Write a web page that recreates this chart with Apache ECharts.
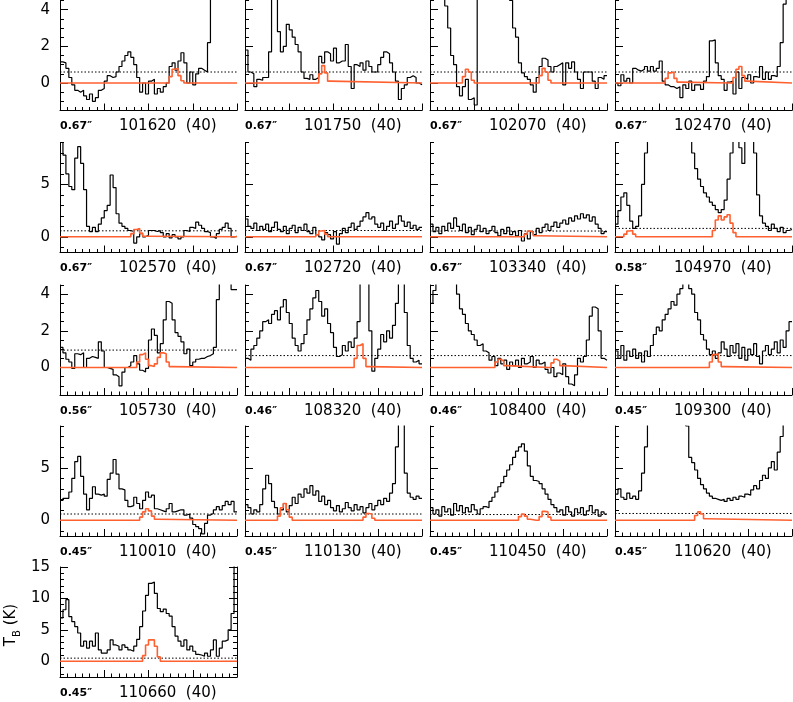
<!DOCTYPE html>
<html><head><meta charset="utf-8">
<script src="https://cdn.jsdelivr.net/npm/echarts@6/dist/echarts.min.js"></script>
<style>html,body{margin:0;padding:0;background:#fff}#c{width:793px;height:702px}</style>
</head><body><div id="c"></div>
<script>
// ---------- labels ----------
const freqLabels = ['101620','101750','102070','102470','102570','102720','103340','104970','105730','108320','108400','109300','110010','110130','110450','110620','110660'];
const beamLabels = ['0.67″','0.67″','0.67″','0.67″','0.67″','0.67″','0.67″','0.58″','0.56″','0.46″','0.46″','0.45″','0.45″','0.45″','0.45″','0.45″','0.45″'];
const widthLabel = '(40)';
const yTitle = 'T_B (K)';

// ---------- observed spectra (T_B in K, 60 channels each) ----------
const spec101620 = [1.15,1.1,0.8,0.3,-0.1,-0.4,-0.5,-0.4,-0.7,-0.9, -0.6,-1.0,-0.8,-0.4,-0.3,0.1,0.4,0.3,0.35,0.6, 0.9,1.2,1.5,1.7,1.4,1.0,0.3,-0.5,0.0,-0.6, 0.1,0.2,-0.6,-0.3,-0.5,-0.2,0.0,0.9,1.1,0.7, 1.2,1.65,1.1,0.0,0.6,-0.1,0.5,0.8,0.7,0.6, 2.2,6,7,8,8,8,8,8,8,8];
const spec101750 = [1.8,0.6,0.5,-0.2,0.2,0.15,0.3,0.3,1.7,6, 6,2.8,1.7,2.0,3.2,2.9,2.5,2.1,1.7,0.6, 0.25,0.2,0.45,0.2,0.3,1.45,1.1,1.7,1.6,1.2, 1.9,1.1,1.2,1.2,2.1,0.9,-0.3,1.0,0.9,1.1, 0.7,1.2,0.9,0.6,0.6,1.0,1.4,1.7,1.6,1.1, 0.6,0.1,-0.9,-0.3,-0.1,0.3,0.4,0.3,0.0,-0.1];
const spec102070 = [8,8,8,7,6,4.2,3.0,1.5,1.0,-0.2, -0.7,-0.2,0.2,-0.9,-0.8,-1.2,8,8,8,8, 8,8,8,8,8,8,8,4.5,3.0,2.5, 1.1,0.55,0.35,0.2,-0.1,-0.5,0.3,0.9,1.35,1.25, 0.9,0.6,0.9,1.0,1.1,-0.1,1.1,0.8,1.15,0.6, 0.2,-0.3,0.6,0.6,0.6,0.1,-0.3,0.3,0.2,0.4];
const spec102470 = [0.0,-0.15,0.45,0.1,0.25,0.0,0.8,0.7,0.65,0.75, 0.9,0.65,0.9,0.65,0.8,1.2,0.1,-0.1,-0.2,-0.2, -0.3,-0.2,-0.8,-0.1,-0.3,0.1,-0.4,-0.1,-0.1,-0.35, 0.1,0.35,2.3,2.35,1.1,0.4,0.2,-0.4,0.05,0.1, -0.6,0.6,-0.3,0.3,0.2,0.45,0.0,0.35,0.3,0.9, 0.2,0.6,0.2,0.4,0.35,0.9,2.2,4.3,8,8];
const spec102570 = [9,7.8,6.0,4.8,4.5,7.5,8.6,7.0,4.5,1.0, 0.5,0.9,0.5,1.2,1.8,2.5,3.0,5.9,4.7,2.2, 1.3,1.0,0.8,0.6,0.5,-0.6,0.0,0.3,0.0,0.15, 0.6,0.6,0.5,0.6,0.4,0.0,0.3,-0.1,0.2,0.0, -0.2,0.0,0.6,0.5,0.9,0.8,1.4,1.1,0.8,0.5, 0.4,0.0,-0.15,0.3,0.7,0.9,1.3,0.8,0.0,0.05];
const spec102720 = [1.7,1.0,0.8,1.3,0.6,1.0,0.7,1.2,0.5,0.9, 1.4,0.7,0.5,1.0,0.3,0.8,1.1,0.4,0.9,0.6, 1.2,0.5,0.3,0.9,0.2,0.0,-0.3,0.4,0.2,-0.2, 0.5,-0.7,0.3,0.8,0.4,0.9,1.3,0.7,1.0,1.5, 1.9,2.3,1.7,1.9,1.2,0.9,1.3,0.6,1.0,1.5, 0.8,1.2,2.0,1.5,1.0,1.4,0.8,1.1,0.7,0.9];
const spec103340 = [1.2,0.5,0.9,0.3,1.0,0.6,1.3,0.8,1.8,1.0, 0.6,1.2,0.4,0.9,0.2,0.7,1.1,0.5,0.8,0.3, 0.6,1.0,0.4,0.1,0.7,0.3,0.9,0.2,0.5,0.1, 0.6,-0.4,0.3,-0.2,0.5,0.2,0.8,0.4,0.9,1.2, 0.6,1.0,1.4,0.9,1.3,1.6,1.2,1.8,1.5,2.0, 1.7,2.2,1.8,2.1,1.5,1.9,1.2,0.8,0.3,0.5];
const spec104970 = [1.2,2.5,3.8,4.2,3.0,1.5,0.8,1.0,2.0,5, 8,10,10,10,10,10,10,10,10,10, 10,10,10,10,10,9.5,8,6.5,5.5,4.8, 4.2,3.8,3.3,3.0,2.6,2.3,2.6,3.5,5.5,8, 10,10,8.5,7.0,9.5,10,10,8,4,2.0, 1.3,1.0,0.6,1.2,0.8,0.5,0.9,0.4,0.6,0.7];
const spec105730 = [1.1,0.8,0.45,0.3,-0.05,0.75,0.7,0.8,0.0,0.5, 0.6,0.55,0.5,1.4,0.9,0.0,-0.05,-0.1,-0.4,-0.5, -1.0,-0.25,0.0,0.1,0.3,0.65,0.2,-0.15,-0.25,-0.05, 1.5,2.1,1.75,0.8,1.3,2.6,3.6,3.5,2.6,1.9, 1.7,1.4,0.75,1.0,0.1,0.3,0.45,0.5,0.5,0.6, 0.65,0.75,1.1,3.7,6,8,8,8,4.25,4.25];
const spec108320 = [0.5,0.4,1.0,1.2,1.6,2.0,2.5,2.6,2.4,2.9, 3.1,2.6,3.3,3.7,3.0,2.4,1.6,1.2,0.9,1.3, 1.8,2.6,3.2,3.8,4.2,3.6,2.8,3.2,2.4,1.9, 1.1,0.6,0.7,1.2,0.9,1.4,1.1,1.6,2.5,6, 6,5,2.0,-0.2,0.5,1.0,1.8,1.4,2.0,1.6, 2.3,3.5,6,6,3.0,1.2,0.5,0.3,0.4,0.2];
const spec108400 = [3.5,4.2,6,8,8,8,7,6,5,4.0, 3.2,2.9,2.4,2.0,1.8,1.5,1.2,1.3,0.9,0.8, 0.4,0.6,0.1,0.5,0.2,0.4,-0.1,0.3,0.1,0.4, 0.0,0.5,0.2,0.3,0.6,0.0,0.4,0.2,0.3,-0.1, -0.3,0.0,-0.5,-0.3,-0.4,0.2,-0.5,-0.9,-1.0,-0.4, 0.5,0.3,0.6,1.5,2.8,3.3,3.2,2.0,0.5,0.4];
const spec109300 = [0.9,0.5,1.2,0.4,0.9,0.6,1.0,0.5,0.8,0.3, 0.9,0.6,1.2,1.8,2.2,2.0,2.6,2.9,3.2,3.6, 3.4,4.0,4.3,6,5.5,4.3,4.0,3.0,2.6,1.8, 1.5,1.0,0.7,0.9,0.5,0.8,1.4,1.0,0.6,1.2, 0.8,1.3,0.5,1.1,0.4,1.0,0.7,1.3,0.6,0.2, 0.9,1.2,0.7,1.0,1.4,0.8,1.5,1.1,2.0,2.5];
const spec110010 = [1.9,2.1,2.1,2.7,4.0,5.6,6.1,4.2,2.5,1.0, 2.1,3.2,2.5,2.4,2.5,2.3,3.9,4.5,5.8,4.4, 3.0,2.9,1.9,1.3,1.4,2.2,1.6,1.1,1.9,2.7, 2.2,2.4,1.1,1.0,0.9,0.8,1.1,1.6,0.8,0.9, 1.0,1.0,0.5,0.6,0.2,-0.4,-0.6,-0.8,-1.3,-0.3, 0.5,0.65,1.0,1.3,1.0,1.4,1.8,1.5,1.8,0.8];
const spec110130 = [1.5,1.2,0.6,1.0,0.8,1.5,3.0,4.3,3.5,1.8, 1.2,0.6,1.0,1.6,0.8,1.4,2.2,1.6,2.5,2.2, 3.0,2.6,3.3,2.4,2.8,1.8,2.3,1.5,1.9,1.2, 0.9,1.4,0.8,1.1,1.7,1.2,0.9,1.5,1.0,1.3, 0.7,1.2,1.6,1.0,1.4,1.9,1.5,2.1,1.8,2.6, 3.5,7,10,10,4.5,2.6,2.2,2.0,2.3,2.1];
const spec110450 = [1.2,0.6,1.0,0.4,1.3,0.8,1.1,0.5,1.6,0.9, 1.4,0.7,1.2,0.8,1.5,1.0,0.6,1.1,1.3,1.2, 1.8,2.2,2.7,3.2,3.6,4.2,4.8,5.3,6.0,6.6, 7.0,7.3,6.6,5.2,4.2,3.8,3.7,3.5,3.0,2.5, 2.0,1.5,1.2,0.8,1.0,0.5,1.3,0.8,0.4,1.1, 0.7,1.2,0.5,0.9,1.4,0.7,1.0,0.4,0.8,0.6];
const spec110620 = [2.5,3.0,2.2,2.0,2.6,2.1,2.3,2.0,2.8,4.5, 7,10,10,10,10,10,10,10,10,10, 10,10,10,10,9,6.0,5.5,4.8,4.0,3.4, 3.0,2.6,2.3,2.1,2.0,1.9,2.0,1.8,2.1,1.9, 2.2,2.0,2.3,2.2,2.5,2.4,2.9,3.3,3.0,3.8, 4.3,4.0,5.0,5.6,4.8,6.5,8,10,10,10];
const spec110660 = [6.9,8.2,9.8,7.1,6.3,5.5,4.5,2.4,3.2,2.1, 3.2,2.4,4.5,1.8,1.3,1.3,1.8,3.4,2.6,2.4, 1.8,2.6,2.2,1.8,1.6,2.4,3.5,5.5,8.0,10.5, 12.4,12.6,10.8,8.4,7.9,8.3,7.6,7.2,5.5,4.0, 3.2,2.4,3.4,1.8,2.4,1.6,1.1,1.0,0.8,1.3, 0.8,1.8,3.4,0.8,2.1,3.2,3.4,5.0,7.6,15.5];

// ---------- model spectra: [channel, T_B] ----------
const model101620 = [[0,0],[36,0],[37,0.35],[38,0.75],[39,0.8],[40,0.4],[41,0.12],[42,0],[60,0]];
const model101750 = [[0,0],[24,0],[25,0.5],[26,0.95],[27,0.55],[28,0.1],[29,0],[60,0]];
const model102070 = [[0,0],[10,0],[11,0.35],[12,0.75],[13,0.6],[14,0.15],[15,0],[36,0],[37,0.4],[38,0.8],[39,0.6],[40,0.15],[41,0],[60,0]];
const model102470 = [[0,0],[16,0],[17,0.25],[18,0.55],[19,0.6],[20,0.25],[21,0.05],[22,0],[39,0],[40,0.3],[41,0.75],[42,0.9],[43,0.4],[44,0.1],[45,0],[60,0]];
const model102570 = [[0,0],[23,0],[24,0.3],[25,0.7],[26,0.8],[27,0.35],[28,0.05],[29,0],[60,0]];
const model102720 = [[0,0],[23,0],[24,0.2],[25,0.55],[26,0.6],[27,0.25],[28,0],[60,0]];
const model103340 = [[0,0],[31,0],[32,0.25],[33,0.55],[34,0.45],[35,0.1],[36,0],[60,0]];
const model104970 = [[0,0],[2,0],[3,0.25],[4,0.55],[5,0.6],[6,0.25],[7,0],[32,0],[33,0.6],[34,1.6],[35,2.0],[36,1.6],[37,1.9],[38,2.1],[39,1.3],[40,0.4],[41,0],[60,0]];
const model105730 = [[0,0],[25,0],[26,0.3],[27,0.7],[28,0.8],[29,0.45],[30,0.1],[31,0.05],[32,0.2],[33,0.55],[34,0.8],[35,0.75],[36,0.3],[37,0.05],[38,0],[60,0]];
const model108320 = [[0,0],[36,0],[37,0.5],[38,1.2],[39,1.3],[40,0.5],[41,0.05],[42,0],[60,0]];
const model108400 = [[0,0],[21,0],[22,0.3],[23,0.45],[24,0.35],[25,0.1],[26,0],[40,0],[41,0.25],[42,0.45],[43,0.35],[44,0.1],[45,0],[60,0]];
const model109300 = [[0,0],[31,0],[32,0.3],[33,0.7],[34,0.75],[35,0.3],[36,0.05],[37,0],[60,0]];
const model110010 = [[0,0],[26,0],[27,0.3],[28,0.8],[29,1.1],[30,0.9],[31,0.4],[32,0.1],[33,0],[60,0]];
const model110130 = [[0,0],[10,0],[11,0.4],[12,1.2],[13,1.6],[14,1.0],[15,0.3],[16,0],[39,0],[40,0.3],[41,0.65],[42,0.6],[43,0.2],[44,0],[60,0]];
const model110450 = [[0,0],[29,0],[30,0.35],[31,0.6],[32,0.4],[33,0.1],[34,0],[36,0],[37,0.35],[38,0.85],[39,0.8],[40,0.3],[41,0],[60,0]];
const model110620 = [[0,0],[26,0],[27,0.45],[28,0.8],[29,0.6],[30,0.15],[31,0],[60,0]];
const model110660 = [[0,0],[27,0],[28,0.9],[29,2.6],[30,3.4],[31,3.4],[32,2.4],[33,0.7],[34,0],[60,0]];

// ---------- noise levels (dotted lines) ----------
const rmsLevels = [0.6,0.6,0.6,0.6, 0.57,0.6,0.55,0.8, 0.95,0.65,0.65,0.65, 0.6,0.6,0.55,0.65, 0.5];

// ---------- axis ranges & tick values per row ----------
const rowYMin = [-1.5,-1.5,-1.5,-1.5,-2.5];
const rowYMax = [4.5,9,4.5,9,15];
const rowMajorTicks = [[0,2,4],[0,5],[0,2,4],[0,5],[0,5,10,15]];
const rowMinorTicks = [
  [-1.5,-1,-0.5,0,0.5,1,1.5,2,2.5,3,3.5,4,4.5],
  [-1,0,1,2,3,4,5,6,7,8,9],
  [-1.5,-1,-0.5,0,0.5,1,1.5,2,2.5,3,3.5,4,4.5],
  [-1,0,1,2,3,4,5,6,7,8,9],
  [-2,-1,0,1,2,3,4,5,6,7,8,9,10,11,12,13,14,15]
];
const velMin = 0, velMax = 120, velMajor = 30, chanWidth = 2;

const specs = [spec101620,spec101750,spec102070,spec102470,spec102570,spec102720,spec103340,spec104970,spec105730,spec108320,spec108400,spec109300,spec110010,spec110130,spec110450,spec110620,spec110660];
const models = [model101620,model101750,model102070,model102470,model102570,model102720,model103340,model104970,model105730,model108320,model108400,model109300,model110010,model110130,model110450,model110620,model110660];

// ---------- layout ----------
const colLeft = [60,245,430,615], rowTop = [0.5,142.5,285,426,567];
const gridW = 177, gridH = 110;
const FONT = '"DejaVu Sans"';
const ORANGE = '#ff6030';
const blk = {color:'#000', width:1};

const grids=[], xAxes=[], yAxes=[], series=[], gfx=[];
for (let p=0; p<specs.length; p++){
  const r = Math.floor(p/4), c = p%4;
  const left = colLeft[c], top = rowTop[r];
  grids.push({left:left, top:top, width:gridW, height:gridH});
  xAxes.push({gridIndex:p, type:'value', min:velMin, max:velMax, interval:velMajor,
    axisLine:{show:true, onZero:false, lineStyle:blk},
    axisTick:{show:true, inside:true, length:7, lineStyle:blk},
    minorTick:{show:true, splitNumber:6, length:3.5, lineStyle:blk},
    axisLabel:{show:false}, splitLine:{show:false}, minorSplitLine:{show:false}});
  const yi = yAxes.length;
  yAxes.push({gridIndex:p, type:'value', position:'left', min:rowYMin[r], max:rowYMax[r],
    axisLine:{show:true, onZero:false, lineStyle:blk},
    axisTick:{show:true, inside:true, length:8, customValues:rowMajorTicks[r], lineStyle:blk},
    axisLabel:{show:c===0, customValues:rowMajorTicks[r], color:'#000', fontSize:15, fontFamily:'DejaVu Sans', margin:10},
    splitLine:{show:false}});
  yAxes.push({gridIndex:p, type:'value', position:'left', min:rowYMin[r], max:rowYMax[r],
    axisLine:{show:false, onZero:false},
    axisTick:{show:true, inside:true, length:4, customValues:rowMinorTicks[r], lineStyle:blk},
    axisLabel:{show:false}, splitLine:{show:false}});
  if (p === specs.length-1){
    yAxes.push({gridIndex:p, type:'value', position:'right', min:rowYMin[r], max:rowYMax[r],
      axisLine:{show:true, onZero:false, lineStyle:blk},
      axisTick:{show:true, inside:true, length:8, customValues:rowMajorTicks[r], lineStyle:blk},
      axisLabel:{show:false}, splitLine:{show:false}});
    yAxes.push({gridIndex:p, type:'value', position:'right', min:rowYMin[r], max:rowYMax[r],
      axisLine:{show:false, onZero:false},
      axisTick:{show:true, inside:true, length:4, customValues:rowMinorTicks[r], lineStyle:blk},
      axisLabel:{show:false}, splitLine:{show:false}});
  }
  const sp = specs[p];
  const specData = sp.map((v,i)=>[velMin + i*chanWidth, v]);
  specData.push([velMin + sp.length*chanWidth, sp[sp.length-1]]);
  series.push({type:'line', xAxisIndex:p, yAxisIndex:yi, data:[[velMin,rmsLevels[p]],[velMax,rmsLevels[p]]],
    symbol:'none', lineStyle:{color:'#000', width:1, type:[1.5,2]}, z:1, silent:true});
  series.push({type:'line', xAxisIndex:p, yAxisIndex:yi, data:specData, step:'end',
    symbol:'none', lineStyle:{color:'#000', width:1.2}, z:2, silent:true, clip:true});
  series.push({type:'line', xAxisIndex:p, yAxisIndex:yi, data:models[p].map(d=>[velMin + d[0]*chanWidth, d[1]]), step:'end',
    symbol:'none', lineStyle:{color:ORANGE, width:1.6}, z:3, silent:true, clip:true});

  const ly = top + gridH + 16;
  gfx.push({type:'text', x:left, y:ly, silent:true,
    style:{text:beamLabels[p], font:'bold 11px '+FONT, fill:'#000', align:'left', verticalAlign:'middle'}});
  gfx.push({type:'text', x:left+59, y:ly, silent:true,
    style:{text:freqLabels[p]+'  '+widthLabel, font:'15px '+FONT, fill:'#000', align:'left', verticalAlign:'middle'}});
}
// y-axis title with subscript
gfx.push({type:'text', x:11, y:625, rotation:Math.PI/2, silent:true,
  style:{text:'{t|T}{s|B}{t| (K)}', align:'center', verticalAlign:'middle',
    rich:{t:{fontSize:15, fontFamily:'DejaVu Sans', fill:'#000', lineHeight:22, verticalAlign:'middle'},
          s:{fontSize:10, fontFamily:'DejaVu Sans', fill:'#000', lineHeight:10, verticalAlign:'bottom'}}}});

const chart = echarts.init(document.getElementById('c'), null, {renderer:'canvas'});
chart.setOption({
  animation:false, backgroundColor:'#fff',
  grid:grids, xAxis:xAxes, yAxis:yAxes, series:series,
  graphic:{elements:gfx}
});
</script></body></html>
